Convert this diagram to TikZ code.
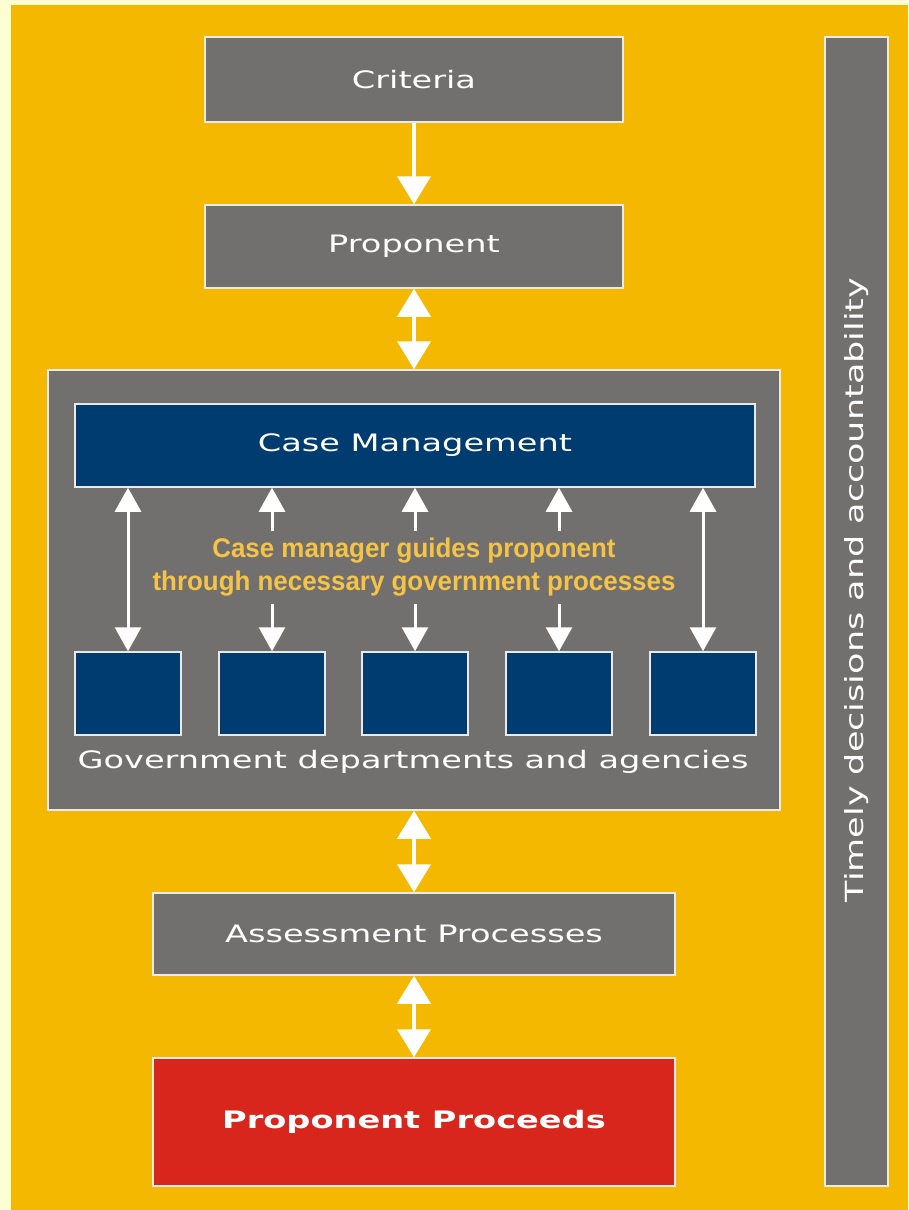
\documentclass[tikz,border=0pt]{standalone}
\usepackage{fontspec}
\newfontfamily\widefont[FakeStretch=1.4]{DejaVu Sans}
\newfontfamily\narrowfont[FakeStretch=0.96]{Liberation Sans}
\usetikzlibrary{arrows.meta}
\usetikzlibrary{calc}
\definecolor{cmorange}{RGB}{245,184,0}
\definecolor{cmcream}{RGB}{255,253,210}
\definecolor{cmgrey}{RGB}{114,112,110}
\definecolor{cmnavy}{RGB}{0,60,112}
\definecolor{cmred}{RGB}{217,38,28}
\definecolor{cmtext}{RGB}{245,195,70}
\tikzset{
  box/.style={draw=white!85!cmgrey, line width=1.5pt, fill=cmgrey, text=white,
    inner sep=0pt, font=\widefont\fontsize{24}{28}\selectfont},
  navybox/.style={box, fill=cmnavy},
  flow/.style={white, line width=4pt, -{Triangle[width=33pt,length=28pt]}},
  twoflow/.style={flow, {Triangle[width=33pt,length=28pt]}-{Triangle[width=33pt,length=28pt]}},
  link/.style={white, line width=3pt, -{Triangle[width=26pt,length=24pt]}},
  twolink/.style={link, {Triangle[width=26pt,length=24pt]}-{Triangle[width=26pt,length=24pt]}}
}
\begin{document}
\begin{tikzpicture}[x=1pt,y=-1pt]
  \fill [cmcream] (0,0) rectangle (908,1210);
  \fill [cmorange] (11,5) rectangle (908,1210);
  \useasboundingbox (0,0) rectangle (908,1210);

  % main column
  \node [box, minimum width=418pt, minimum height=85pt] (crit) at (414,79.5) {Criteria};
  \node [box, minimum width=418pt, minimum height=83pt] (prop) at (414,246.5) {Proponent};
  \node [box, minimum width=732pt, minimum height=440pt] (frame) at (414,590) {};
  \node [navybox, minimum width=680pt, minimum height=83pt] (cm) at (415,445.5) {Case Management};
  \node [box, minimum width=522pt, minimum height=82pt] (assess) at (414,934) {Assessment Processes};
  \node [box, fill=cmred, minimum width=522pt, minimum height=128pt,
    font=\widefont\bfseries\fontsize{24}{28}\selectfont] (proceeds) at (414,1122) {Proponent Proceeds};

  % side bar
  \node [box, minimum width=63pt, minimum height=1149pt] (bar) at (856.5,611.5) {};
  \node [rotate=90, text=white, font=\widefont\fontsize{25}{28}\selectfont] (bartext) at (856.5,590) {Timely decisions and accountability};

  % departments
  \foreach \n/\x in {1/128,2/272,3/415,4/559,5/703} {
    \node [navybox, minimum width=106pt, minimum height=83pt] (d\n) at (\x,693.5) {};
  }
  \node [text=white, font=\widefont\fontsize{24}{28}\selectfont] (govt) at (413,762) {Government departments and agencies};
  \node [text=cmtext, align=center, font=\narrowfont\bfseries\fontsize{27}{33}\selectfont] (guide) at (414,567)
    {Case manager guides proponent\\through necessary government processes};

  % connectors
  \draw [flow] (crit.south) -- (prop.north);
  \draw [twoflow] (prop.south) -- (frame.north);
  \draw [twoflow] (frame.south) -- (assess.north);
  \draw [twoflow] (assess.south) -- (proceeds.north);

  \draw [twolink] (cm.south -| d1.north) -- (d1.north);
  \draw [twolink] (cm.south -| d5.north) -- (d5.north);
  \foreach \n in {2,3,4} {
    \coordinate (up\n) at ($(d\n.north)+(0,-120)$);
    \coordinate (dn\n) at ($(d\n.north)+(0,-47)$);
    \draw [link] (up\n) -- (cm.south -| d\n.north);
    \draw [link] (dn\n) -- (d\n.north);
  }
\end{tikzpicture}
\end{document}
